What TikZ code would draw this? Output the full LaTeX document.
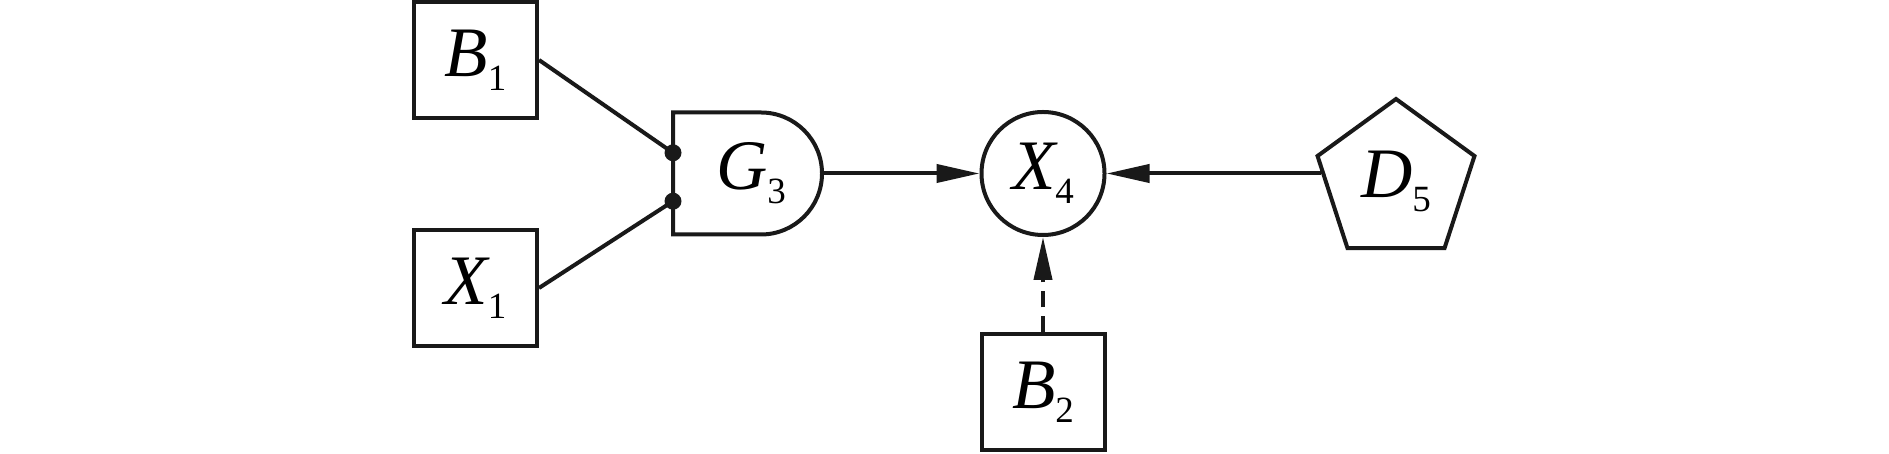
\documentclass[tikz,border=0pt]{standalone}
\usepackage{fontspec}
\setmainfont{Liberation Serif}
\usetikzlibrary{arrows.meta,shapes.geometric}
\newcommand\lbl[2]{{\fontsize{71}{80}\selectfont\itshape #1}\raisebox{-14pt}{\fontsize{37}{40}\selectfont #2}}
\begin{document}
\begin{tikzpicture}[x=1pt,y=1pt,
  ln/.style={line width=4pt, draw=black!90},
  box/.style={ln, rectangle, minimum width=123pt, minimum height=116pt, inner sep=0pt},
  circ/.style={ln, circle, minimum size=123pt, inner sep=0pt},
  pent/.style={ln, regular polygon, regular polygon sides=5, minimum size=165pt, inner sep=0pt},
  gatebox/.style={rectangle, minimum width=149pt, minimum height=122pt, inner sep=0pt, outer sep=0pt},
  dotnode/.style={circle, fill=black!90, minimum size=17pt, inner sep=0pt},
  arr/.style={ln, -{Triangle[length=43pt,width=18pt]}},
  dsh/.style={dash pattern=on 16pt off 9pt}
]
\useasboundingbox (0,0) rectangle (1889,454);
% nodes
\node[box] (B1) at (475.5,394) {\lbl{B}{1}};
\node[box] (X1) at (475.5,166) {\lbl{X}{1}};
\node[gatebox] (G3) at (747.5,280.5) {\hspace{7pt}\lbl{G}{3}};
\draw[ln] (G3.south west) -- (G3.north west) -- ([xshift=-61pt]G3.north east)
  arc[start angle=90, end angle=-90, radius=61pt] -- cycle;
\node[circ] (X4) at (1043,280.5) {\lbl{X}{4}};
\node[box] (B2) at (1043,61.5) {\lbl{B}{2}};
\node[pent] (D5) at (1396,272.5) {\lbl{D}{5}};
% connectors
\coordinate (g1) at ([yshift=20.7pt]G3.west);
\coordinate (g2) at ([yshift=-27.7pt]G3.west);
\draw[ln] (B1.east) -- (g1);
\draw[ln] (X1.east) -- (g2);
\node[dotnode] (d1) at (g1) {};
\node[dotnode] (d2) at (g2) {};
\draw[arr] (G3.east) -- (X4.west);
\draw[arr] (D5.174 |- X4.east) -- (X4.east);
\draw[arr, dsh] (B2.north) -- (X4.south);
\end{tikzpicture}
\end{document}
